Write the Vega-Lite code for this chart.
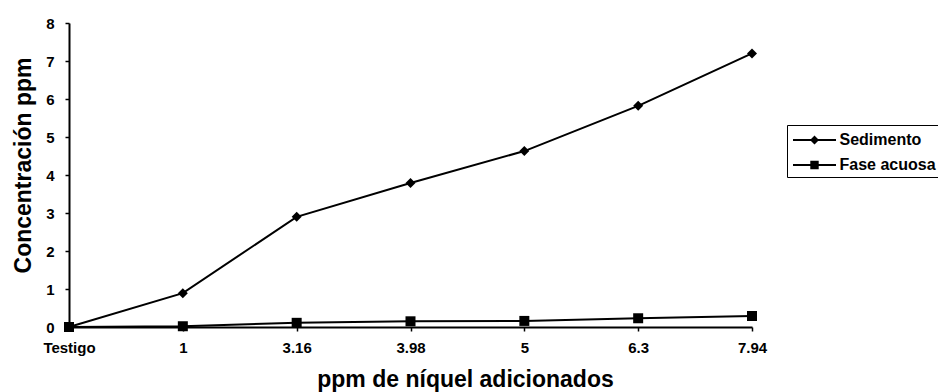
{
  "$schema": "https://vega.github.io/schema/vega-lite/v6.json",
  "width": 683,
  "height": 304,
  "autosize": {"type": "none"},
  "padding": {"left": 69, "top": 23, "right": 186, "bottom": 65},
  "background": "white",
  "config": {
    "view": {"stroke": null},
    "font": "Liberation Sans",
    "axis": {
      "domainColor": "black",
      "domainWidth": 2,
      "tickColor": "black",
      "tickWidth": 1.5,
      "tickSize": 4,
      "grid": false,
      "labelFont": "Liberation Sans",
      "labelFontWeight": "bold",
      "labelFontSize": 15,
      "labelColor": "black",
      "titleFont": "Liberation Sans",
      "titleFontWeight": "bold",
      "titleFontSize": 23,
      "titleColor": "black"
    }
  },
  "data": {
    "values": [
      {"dosis": "Testigo", "serie": "Sedimento", "conc": 0},
      {"dosis": "1", "serie": "Sedimento", "conc": 0.89},
      {"dosis": "3.16", "serie": "Sedimento", "conc": 2.9},
      {"dosis": "3.98", "serie": "Sedimento", "conc": 3.79},
      {"dosis": "5", "serie": "Sedimento", "conc": 4.63},
      {"dosis": "6.3", "serie": "Sedimento", "conc": 5.82},
      {"dosis": "7.94", "serie": "Sedimento", "conc": 7.2},
      {"dosis": "Testigo", "serie": "Fase acuosa", "conc": 0},
      {"dosis": "1", "serie": "Fase acuosa", "conc": 0.02},
      {"dosis": "3.16", "serie": "Fase acuosa", "conc": 0.11},
      {"dosis": "3.98", "serie": "Fase acuosa", "conc": 0.15},
      {"dosis": "5", "serie": "Fase acuosa", "conc": 0.16},
      {"dosis": "6.3", "serie": "Fase acuosa", "conc": 0.23},
      {"dosis": "7.94", "serie": "Fase acuosa", "conc": 0.29}
    ]
  },
  "encoding": {
    "x": {
      "field": "dosis",
      "type": "ordinal",
      "sort": ["Testigo", "1", "3.16", "3.98", "5", "6.3", "7.94"],
      "scale": {"type": "point", "padding": 0},
      "axis": {
        "title": "ppm de níquel adicionados",
        "labelAngle": 0,
        "labelPadding": 9,
        "titleX": 396,
        "titleY": 41,
        "titleAlign": "center",
        "titleBaseline": "top"
      }
    },
    "y": {
      "field": "conc",
      "type": "quantitative",
      "scale": {"domain": [0, 8]},
      "axis": {
        "title": "Concentración ppm",
        "values": [0, 1, 2, 3, 4, 5, 6, 7, 8],
        "format": "d",
        "labelPadding": 11,
        "titleX": -34,
        "titleY": 142,
        "titleAngle": -90,
        "titleAlign": "center",
        "titleBaseline": "bottom"
      }
    }
  },
  "layer": [
    {
      "mark": {"type": "line", "color": "black", "strokeWidth": 2},
      "encoding": {"detail": {"field": "serie"}}
    },
    {
      "mark": {"type": "point", "filled": true, "color": "black", "size": 100, "opacity": 1},
      "encoding": {
        "shape": {
          "field": "serie",
          "type": "nominal",
          "scale": {"domain": ["Sedimento", "Fase acuosa"], "range": ["diamond", "square"]},
          "legend": null
        }
      }
    },
    {
      "mark": {"type": "point", "filled": true, "color": "black", "size": 0},
      "encoding": {
        "shape": {
          "field": "serie",
          "type": "nominal",
          "scale": {
            "domain": ["Sedimento", "Fase acuosa"],
            "range": [
              "M-2.15,-0.1H2.15V0.1H-2.15Z M-0.45,0L0,-0.45L0.45,0L0,0.45Z",
              "M-2.15,-0.1H2.15V0.1H-2.15Z M-0.42,-0.42H0.42V0.42H-0.42Z"
            ]
          },
          "legend": {
            "title": null,
            "orient": "none",
            "legendX": 718,
            "legendY": 102,
            "padding": 4,
            "strokeColor": "black",
            "fillColor": "white",
            "symbolSize": 400,
            "symbolFillColor": "black",
            "symbolOpacity": 1,
            "symbolOffset": 12.5,
            "labelOffset": 14,
            "rowPadding": 6,
            "labelFont": "Liberation Sans",
            "labelFontWeight": "bold",
            "labelFontSize": 16,
            "labelColor": "black",
            "labelLimit": 300,
            "encode": {
              "legend": {
                "update": {"strokeWidth": {"value": 1.5}}
              }
            }
          }
        }
      }
    }
  ],
  "resolve": {"scale": {"shape": "independent"}}
}
